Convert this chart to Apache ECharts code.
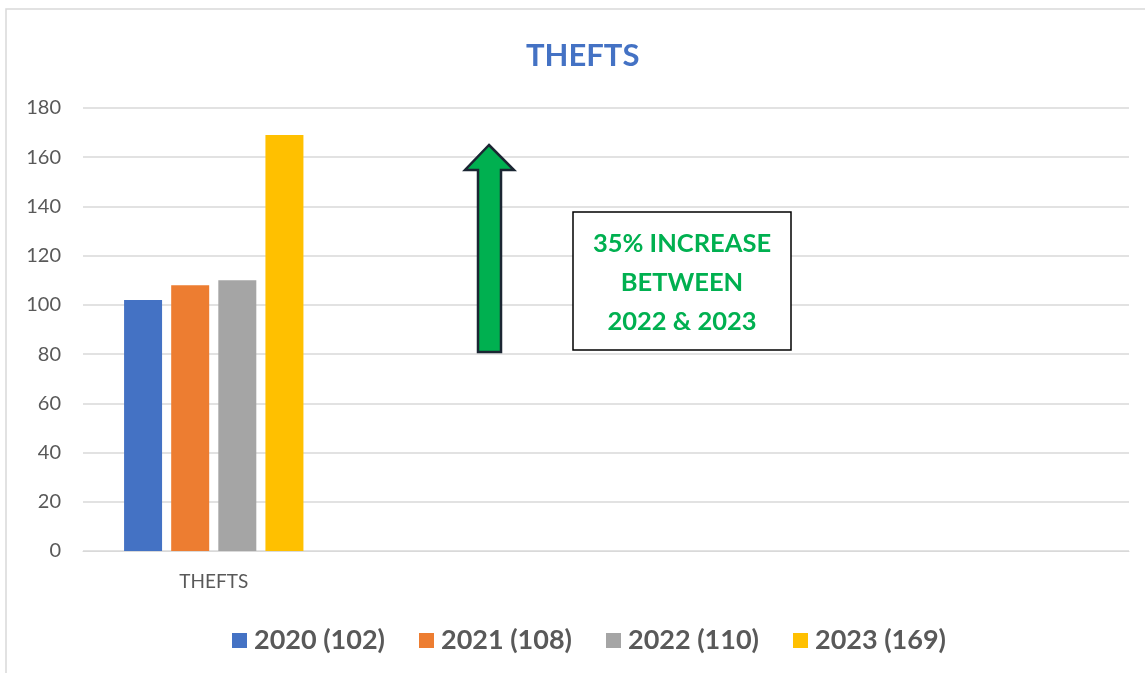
<!DOCTYPE html>
<html>
<head>
<meta charset="utf-8">
<script src="https://cdn.jsdelivr.net/npm/echarts@6/dist/echarts.min.js"></script>
<style>
html,body{margin:0;padding:0;background:#fff;}
#chart{width:1145px;height:673px;}
</style>
</head>
<body>
<div id="chart"></div>
<script>
var categories = ['THEFTS', '', '', ''];
var seriesNames = ['2020 (102)', '2021 (108)', '2022 (110)', '2023 (169)'];
var values2020 = [102];
var values2021 = [108];
var values2022 = [110];
var values2023 = [169];
var colors = ['#4472C4', '#ED7D31', '#A5A5A5', '#FFC000'];
var yTicks = {min: 0, max: 180, interval: 20};

var FONT = 'Lato, "Open Sans", sans-serif';
var allValues = [values2020, values2021, values2022, values2023];

var chart = echarts.init(document.getElementById('chart'), null, {renderer: 'canvas'});
var series = seriesNames.map(function (n, i) {
  return {
    name: n,
    type: 'bar',
    data: allValues[i],
    barWidth: 38,
    barGap: '24%',
    itemStyle: {color: colors[i]}
  };
});

chart.setOption({
  animation: false,
  color: colors,
  title: {
    text: 'THEFTS',
    left: 521,
    top: 35,
    textStyle: {fontFamily: FONT, fontSize: 31, fontWeight: 'bold', color: '#4472C4'}
  },
  grid: {left: 83, right: 16, top: 108, bottom: 122, containLabel: false},
  xAxis: {
    type: 'category',
    data: categories,
    axisLine: {lineStyle: {color: '#D9D9D9', width: 1}},
    axisTick: {show: false},
    axisLabel: {fontFamily: FONT, fontSize: 19, color: '#595959', margin: 21}
  },
  yAxis: {
    type: 'value',
    min: yTicks.min,
    max: yTicks.max,
    interval: yTicks.interval,
    axisLine: {show: false},
    axisTick: {show: false},
    splitLine: {lineStyle: {color: '#D9D9D9', width: 1.5}},
    axisLabel: {fontFamily: FONT, fontSize: 20, color: '#595959', margin: 22}
  },
  legend: {
    bottom: 14,
    left: 227,
    icon: 'rect',
    itemWidth: 15,
    itemHeight: 15,
    itemGap: 34,
    textStyle: {fontFamily: FONT, fontSize: 27, fontWeight: 'bold', color: '#595959', padding: [0, 0, 0, 2]}
  },
  series: series,
  graphic: [
    {
      type: 'rect',
      shape: {x: 6, y: 9, width: 1160, height: 700},
      style: {fill: 'none', stroke: '#D9D9D9', lineWidth: 1.5},
      silent: true, z: 0
    },
    {
      type: 'polygon',
      shape: {points: [[489, 145], [514, 170], [501, 170], [501, 352], [478, 352], [478, 170], [465, 170]]},
      style: {fill: '#00B050', stroke: '#1B2633', lineWidth: 2.5},
      z: 10
    },
    {
      type: 'rect',
      shape: {x: 573, y: 212, width: 218, height: 138},
      style: {fill: '#fff', stroke: '#000', lineWidth: 1.5},
      z: 10
    },
    {
      type: 'text',
      x: 682, y: 283,
      style: {
        text: '35% INCREASE\nBETWEEN\n2022 & 2023',
        fill: '#00B050',
        font: 'bold 25.5px ' + FONT,
        textAlign: 'center',
        textVerticalAlign: 'middle',
        lineHeight: 39
      },
      z: 11
    }
  ]
});
</script>
</body>
</html>
